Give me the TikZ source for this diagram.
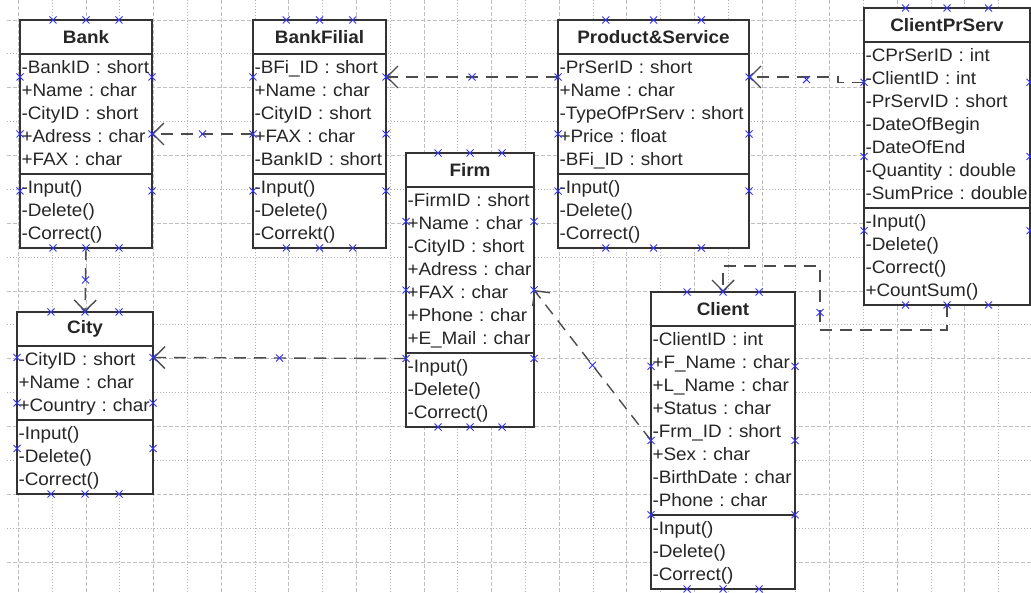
\documentclass[tikz,border=0pt]{standalone}
\usepackage{fontspec}
\setmainfont{Liberation Sans}[FakeStretch=1.05]
\usetikzlibrary{calc,positioning,arrows.meta}

\definecolor{markblue}{RGB}{50,50,255}

% font of the rows of a class box
\newcommand{\rowfont}{\fontsize{18}{23}\selectfont\frenchspacing\hyphenpenalty10000\relax}

\tikzset{
    gridmajor/.style={draw=black!25, line width=0.8pt, dash pattern=on 4pt off 2pt},
    gridminor/.style={draw=black!30, line width=0.8pt, dash pattern=on 1pt off 2pt},
    ctitle/.style={draw=black!80, fill=white, line width=1.5pt, outer sep=0pt,
        inner sep=0pt, minimum height=34pt, minimum width=#1, anchor=north west,
        font=\fontsize{18}{23}\selectfont\bfseries, text=black!85},
    cpart/.style={draw=black!80, fill=white, line width=1.5pt, outer sep=0pt,
        inner xsep=1.5pt, inner ysep=2.5pt, text width=#1, align=left,
        font=\rowfont, text=black!85,
        execute at begin node=\rowstrut, execute at end node=\rowstrut},
    conn/.style={draw=black!70, line width=1.4pt, dash pattern=on 12pt off 8pt},
    cmark/.style={draw=markblue, line width=0.9pt}
}

% strut for one row of a class box
\newcommand{\rowstrut}{\rule[-6pt]{0pt}{23pt}}

% connection points of a class (title node #1, last part #2)
\newcommand{\cpoints}[2]{%
    \foreach \f/\k in {0.25/1,0.5/2,0.75/3}{
        \coordinate (#1-n\k) at ($(#1.north west)!\f!(#1.north east)$);
        \coordinate (#1-s\k) at ($(#2.south west)!\f!(#2.south east)$);
        \coordinate (#1-w\k) at ($(#1.north west)!\f!(#2.south west)$);
        \coordinate (#1-e\k) at ($(#1.north east)!\f!(#2.south east)$);
    }}

% small blue cross
\newcommand{\connpt}[1]{\draw[cmark] (#1) +(-3.5,-3.5) -- +(3.5,3.5) +(-3.5,3.5) -- +(3.5,-3.5);}

\begin{document}
\begin{tikzpicture}[x=1pt, y=-1pt, >={Straight Barb[length=11pt,width=22pt]}]
    % Page
    \useasboundingbox (0,0) rectangle (1031,593);
    \fill[white] (0,0) rectangle (1031,593);

    % Draw grid
    \foreach \i in {0,...,29}{
        \ifodd\i\relax \draw[gridminor] ({18.3+33.8*\i},0) -- ++(0,593);
        \else \draw[gridmajor] ({18.3+33.8*\i},0) -- ++(0,593); \fi
    }
    \foreach \j in {0,...,16}{
        \ifodd\j\relax \draw[gridminor] (7,{20+33.87*\j}) -- (1031,{20+33.87*\j});
        \else \draw[gridmajor] (7,{20+33.87*\j}) -- (1031,{20+33.87*\j}); \fi
    }

    % Draw class Bank
    \node[ctitle=132pt] (bank) at (20,20) {Bank};
    \node[cpart=129pt, below=0pt of bank] (bank-at)
        {-BankID : short\\+Name : char\\-CityID : short\\+Adress : char\\+FAX : char};
    \node[cpart=129pt, below=0pt of bank-at] (bank-op) {-Input()\\-Delete()\\-Correct()};
    \cpoints{bank}{bank-op}

    % Draw class BankFilial
    \node[ctitle=133pt] (bfil) at (253,20) {BankFilial};
    \node[cpart=130pt, below=0pt of bfil] (bfil-at)
        {-BFi\_ID : short\\+Name : char\\-CityID : short\\+FAX : char\\-BankID : short};
    \node[cpart=130pt, below=0pt of bfil-at] (bfil-op) {-Input()\\-Delete()\\-Correkt()};
    \cpoints{bfil}{bfil-op}

    % Draw class Product&Service
    \node[ctitle=191pt] (prod) at (558,20) {Product\&Service};
    \node[cpart=188pt, below=0pt of prod] (prod-at)
        {-PrSerID : short\\+Name : char\\-TypeOfPrServ : short\\+Price : float\\-BFi\_ID : short};
    \node[cpart=188pt, below=0pt of prod-at] (prod-op) {-Input()\\-Delete()\\-Correct()};
    \cpoints{prod}{prod-op}

    % Draw class Firm
    \node[ctitle=128pt] (firm) at (406,153) {Firm};
    \node[cpart=125pt, below=0pt of firm] (firm-at)
        {-FirmID : short\\+Name : char\\-CityID : short\\+Adress : char\\+FAX : char\\+Phone : char\\+E\_Mail : char};
    \node[cpart=125pt, below=0pt of firm-at] (firm-op) {-Input()\\-Delete()\\-Correct()};
    \cpoints{firm}{firm-op}

    % Draw class ClientPrServ
    \node[ctitle=166pt] (cps) at (864,8) {ClientPrServ};
    \node[cpart=163pt, below=0pt of cps] (cps-at)
        {-CPrSerID : int\\-ClientID : int\\-PrServID : short\\-DateOfBegin\\-DateOfEnd\\-Quantity : double\\-SumPrice : double};
    \node[cpart=163pt, below=0pt of cps-at] (cps-op) {-Input()\\-Delete()\\-Correct()\\+CountSum()};
    \cpoints{cps}{cps-op}

    % Draw class Client
    \node[ctitle=144pt] (client) at (651,292) {Client};
    \node[cpart=141pt, below=0pt of client] (client-at)
        {-ClientID : int\\+F\_Name : char\\+L\_Name : char\\+Status : char\\-Frm\_ID : short\\+Sex : char\\-BirthDate : char\\-Phone : char};
    \node[cpart=141pt, below=0pt of client-at] (client-op) {-Input()\\-Delete()\\-Correct()};
    \cpoints{client}{client-op}

    % Draw class City
    \node[ctitle=136pt] (city) at (17,312) {City};
    \node[cpart=133pt, below=0pt of city] (city-at) {-CityID : short\\+Name : char\\+Country : char};
    \node[cpart=133pt, below=0pt of city-at] (city-op) {-Input()\\-Delete()\\-Correct()};
    \cpoints{city}{city-op}

    % Draw connectors
    \coordinate (bend) at (820,266);
    \draw[conn, ->] (bfil-w2) -- (bank-e2);
    \draw[conn, ->] (prod-w1) -- (bfil-e1);
    \draw[conn, ->] (cps-w1) -- ++(-26,0) |- (prod-e1);
    \draw[conn, ->] (bank-s2) -- (city-n2);
    \draw[conn, ->] (firm-w3) -- (city-e1);
    \draw[conn, ->] (client-w2) -- (firm-e2);
    \draw[conn, ->] (cps-s2) -- ++(0,25) -| (bend) -| (client-n2);

    % Draw connection points
    \foreach \c in {bank,bfil,prod,firm,cps,client,city}
        \foreach \s in {n,s,w,e}
            \foreach \k in {1,2,3}
                \connpt{\c-\s\k};
    \connpt{$(bfil-w2)!0.5!(bank-e2)$}
    \connpt{$(prod-w1)!0.5!(bfil-e1)$}
    \connpt{$(cps-w1)!0.5!(prod-e1)$}
    \connpt{$(bank-s2)!0.5!(city-n2)$}
    \connpt{$(firm-w3)!0.5!(city-e1)$}
    \connpt{$(client-w2)!0.5!(firm-e2)$}
    \connpt{820,312.5}
\end{tikzpicture}
\end{document}
